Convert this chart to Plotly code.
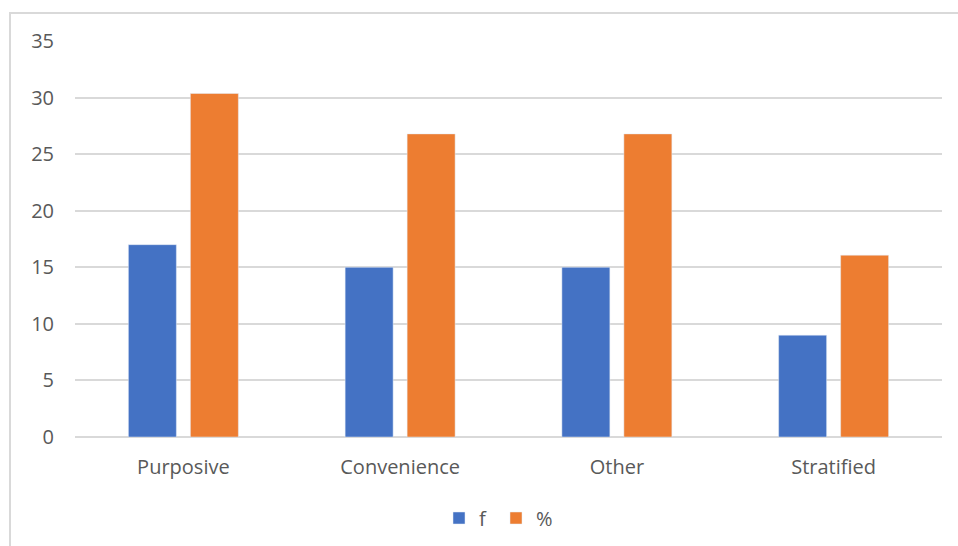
import plotly.graph_objects as go

categories = ["Purposive", "Convenience", "Other", "Stratified"]
f_values = [17, 15, 15, 9]
pct_values = [30.36, 26.79, 26.79, 16.07]
y_ticks = [0, 5, 10, 15, 20, 25, 30, 35]

L, R, T, B = 75, 16, 41, 109
W, H = 958, 546
pw, ph = W - L - R, H - T - B

fig = go.Figure()
fig.add_trace(go.Bar(name="f", x=categories, y=f_values, marker_color="#4472C4"))
fig.add_trace(go.Bar(name="%", x=categories, y=pct_values, marker_color="#ED7D31"))

font = dict(family="Open Sans", size=20, color="#595959")
fig.update_layout(
    width=W, height=H,
    margin=dict(l=L, r=R, t=T, b=B, autoexpand=False),
    paper_bgcolor="white", plot_bgcolor="white",
    barmode="group", bargap=0.428, bargroupgap=0.226,
    font=font,
    showlegend=True,
    legend=dict(orientation="h", x=(496 - L) / pw, xanchor="center", y=(437 - 518) / ph, yanchor="middle",
                font=font, itemwidth=30, entrywidth=12),
    xaxis=dict(showgrid=False, showline=False, ticks="", tickfont=font, ticklabelstandoff=16),
    yaxis=dict(range=[0, 35], tickvals=y_ticks, showgrid=True, gridcolor="#d9d9d9", gridwidth=1.5,
               zeroline=True, zerolinecolor="#d9d9d9", zerolinewidth=2, showline=False,
               tickfont=font, ticklabelstandoff=20),
    shapes=[dict(type="rect", xref="paper", yref="paper",
                 x0=(10 - L) / pw, x1=(W + 20 - L) / pw,
                 y0=(437 - (H + 20)) / ph, y1=(437 - 13) / ph,
                 line=dict(color="#d9d9d9", width=2), fillcolor="rgba(0,0,0,0)", layer="below")],
)
fig.write_html("out.html")
